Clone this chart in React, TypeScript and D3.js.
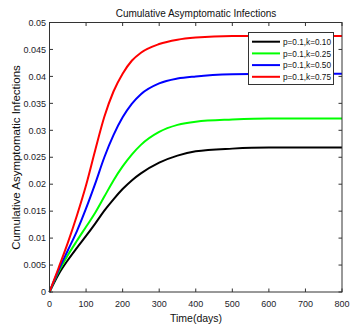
import * as d3 from "d3";

const days = [0, 25, 50, 75, 100, 125, 150, 175, 200, 225, 250, 300, 350, 400, 500, 600, 700, 800];
const k010 = [0, 0.0033, 0.0059, 0.0082, 0.0104, 0.0127, 0.0151, 0.0172, 0.0191, 0.0207, 0.022, 0.024, 0.0253, 0.0261, 0.0266, 0.0268, 0.0268, 0.0268];
const k025 = [0, 0.0038, 0.0068, 0.0095, 0.0121, 0.0147, 0.0177, 0.0207, 0.0233, 0.0255, 0.0273, 0.0297, 0.031, 0.0316, 0.032, 0.0322, 0.0322, 0.0322];
const k050 = [0, 0.0041, 0.0077, 0.0113, 0.0155, 0.0201, 0.025, 0.0291, 0.0324, 0.0349, 0.0367, 0.0387, 0.0396, 0.04, 0.0404, 0.0405, 0.0405, 0.0405];
const k075 = [0, 0.0045, 0.0091, 0.0142, 0.0198, 0.0263, 0.0325, 0.0372, 0.0405, 0.0429, 0.0444, 0.046, 0.0468, 0.0472, 0.0475, 0.0475, 0.0475, 0.0475];

const seriesNames = ["p=0.1,k=0.10", "p=0.1,k=0.25", "p=0.1,k=0.50", "p=0.1,k=0.75"];
const seriesColors = ["#000000", "#00ff00", "#0000ff", "#ff0000"];
const xTicks = [0, 100, 200, 300, 400, 500, 600, 700, 800];
const yTicks = [0, 0.005, 0.01, 0.015, 0.02, 0.025, 0.03, 0.035, 0.04, 0.045, 0.05];

export default function App() {
  const W = 358, H = 331;
  const m = { left: 49.5, right: 342, top: 22.5, bottom: 292 };
  const x = d3.scaleLinear().domain([0, 800]).range([m.left, m.right]);
  const y = d3.scaleLinear().domain([0, 0.05]).range([m.bottom, m.top]);
  const all = [k010, k025, k050, k075];
  const line = d3
    .line<number>()
    .x((_, i) => x(days[i]))
    .y((d) => y(d))
    .curve(d3.curveMonotoneX);
  const font = "'Liberation Sans', Arial, sans-serif";
  const tl = 3.5;
  const fmt = (v: number) => (v === 0 ? "0" : String(+v.toFixed(3)));

  return (
    <div style={{ position: "absolute", left: 0, top: 0 }}>
      <svg width={W} height={H} style={{ display: "block", background: "#fff" }} fontFamily={font}>
        {all.map((s, i) => (
          <path key={i} d={line(s) ?? ""} fill="none" stroke={seriesColors[i]} strokeWidth={2} />
        ))}
        <rect x={m.left} y={m.top} width={m.right - m.left} height={m.bottom - m.top} fill="none" stroke="#333" strokeWidth={1} />
        {xTicks.map((t) => (
          <g key={"x" + t}>
            <line x1={x(t)} x2={x(t)} y1={m.bottom} y2={m.bottom - tl} stroke="#333" />
            <line x1={x(t)} x2={x(t)} y1={m.top} y2={m.top + tl} stroke="#333" />
            <text x={x(t)} y={306.5} fontSize={9} textAnchor="middle" fill="#1c1c2a">{t}</text>
          </g>
        ))}
        {yTicks.map((t) => (
          <g key={"y" + t}>
            <line x1={m.left} x2={m.left + tl} y1={y(t)} y2={y(t)} stroke="#333" />
            <line x1={m.right} x2={m.right - tl} y1={y(t)} y2={y(t)} stroke="#333" />
            <text x={46} y={y(t) + 3.2} fontSize={9} textAnchor="end" fill="#1c1c2a">{fmt(t)}</text>
          </g>
        ))}
        <text x={196} y={17} fontSize={10} textAnchor="middle" fill="#111">Cumulative Asymptomatic Infections</text>
        <text x={196} y={322} fontSize={10.5} textAnchor="middle" fill="#111">Time(days)</text>
        <text transform={`translate(20,157.5) rotate(-90)`} fontSize={11.5} textAnchor="middle" fill="#111">
          Cumulative Asymptomatic Infections
        </text>
        <g>
          <rect x={248.5} y={32.5} width={85} height={52} fill="#fff" stroke="#333" strokeWidth={1} />
          {seriesNames.map((n, i) => {
            const ly = 41.7 + i * 11.7;
            return (
              <g key={n}>
                <line x1={252} x2={280} y1={ly} y2={ly} stroke={seriesColors[i]} strokeWidth={2} />
                <text x={283} y={ly + 3.3} fontSize={9.5} textLength={48} lengthAdjust="spacingAndGlyphs" fill="#111">{n}</text>
              </g>
            );
          })}
        </g>
      </svg>
    </div>
  );
}
